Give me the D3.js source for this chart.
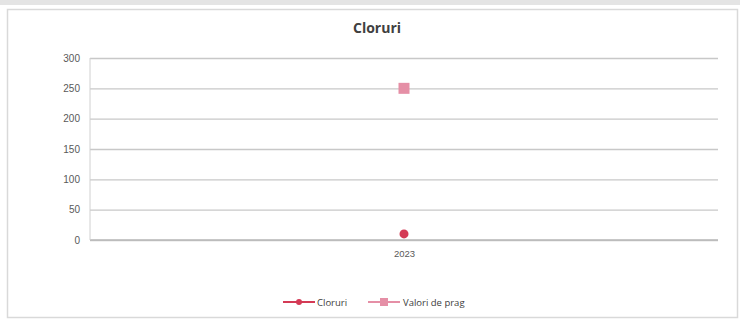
<!DOCTYPE html>
<html>
<head>
<meta charset="utf-8">
<script src="https://cdn.jsdelivr.net/npm/d3@7/dist/d3.min.js"></script>
<style>
  html, body { margin: 0; padding: 0; background: #fff; }
  svg { display: block; font-family: "Open Sans", "Liberation Sans", sans-serif; }
</style>
</head>
<body>
<svg id="chart" width="740" height="323"></svg>
<script>
// Chloride measurements against the threshold value
const categories = ["2023"];
const clorurii = [10];
const valoriPrag = [250];
const yTicks = [0, 50, 100, 150, 200, 250, 300];
const seriesNames = ["Cloruri", "Valori de prag"];

const W = 740, H = 323;
const margin = { top: 58, right: 22, bottom: 83, left: 90 };
const svg = d3.select("#chart");

// page background and chart frame
svg.append("rect").attr("x", 0).attr("y", 0).attr("width", W).attr("height", H).attr("fill", "#fff");
svg.append("rect").attr("x", 0).attr("y", 0).attr("width", W).attr("height", 5).attr("fill", "#e4e4e4");
svg.append("rect").attr("x", 7.5).attr("y", 9.5).attr("width", W - 10).attr("height", 308)
  .attr("fill", "#fff").attr("stroke", "#d9d9d9").attr("stroke-width", 1.5);

const x = d3.scalePoint().domain(categories).range([margin.left, W - margin.right]).padding(0.5);
const y = d3.scaleLinear().domain([0, 300]).range([H - margin.bottom, margin.top]);

// horizontal gridlines
const yAxis = d3.axisLeft(y).tickValues(yTicks).tickSize(-(W - margin.left - margin.right)).tickPadding(10);
const gy = svg.append("g").attr("transform", `translate(${margin.left},0)`).call(yAxis);
gy.select(".domain").remove();
gy.selectAll(".tick line").attr("stroke", "#c8c8c8").attr("stroke-width", 1.3);
gy.selectAll(".tick text").attr("fill", "#595959").attr("font-size", 10);

// baseline and vertical axis line
svg.append("line").attr("x1", margin.left).attr("x2", W - margin.right)
  .attr("y1", y(0)).attr("y2", y(0)).attr("stroke", "#b8b8b8").attr("stroke-width", 1.3);
svg.append("line").attr("x1", margin.left).attr("x2", margin.left)
  .attr("y1", y(0)).attr("y2", y(300)).attr("stroke", "#d0d0d0").attr("stroke-width", 1);

// category axis
const xAxis = d3.axisBottom(x).tickSize(0).tickPadding(10);
const gx = svg.append("g").attr("transform", `translate(0,${y(0)})`).call(xAxis);
gx.select(".domain").remove();
gx.selectAll(".tick text").attr("fill", "#595959").attr("font-size", 9.5);

// title
svg.append("text").attr("x", 377).attr("y", 33).attr("text-anchor", "middle")
  .attr("font-size", 14).attr("font-weight", "bold").attr("fill", "#404040").text("Cloruri");

const redColor = "#d43a55";
const pinkColor = "#e58fa6";

// Cloruri series (circle markers)
svg.append("g").selectAll("circle").data(clorurii).join("circle")
  .attr("cx", (d, i) => x(categories[i])).attr("cy", d => y(d)).attr("r", 4.5).attr("fill", redColor);

// threshold series (square markers)
svg.append("g").selectAll("rect").data(valoriPrag).join("rect")
  .attr("x", (d, i) => x(categories[i]) - 5.5).attr("y", d => y(d) - 5.5)
  .attr("width", 11).attr("height", 11).attr("fill", pinkColor);

// legend
const legend = svg.append("g").attr("transform", "translate(283,302)");
const l1 = legend.append("g");
l1.append("line").attr("x1", 0).attr("x2", 32).attr("stroke", redColor).attr("stroke-width", 2);
l1.append("circle").attr("cx", 16).attr("r", 3).attr("fill", redColor);
l1.append("text").attr("x", 34).attr("y", 3.5).attr("font-size", 9.5).attr("fill", "#404040").text(seriesNames[0]);
const l2 = legend.append("g").attr("transform", "translate(85,0)");
l2.append("line").attr("x1", 0).attr("x2", 32).attr("stroke", pinkColor).attr("stroke-width", 2);
l2.append("rect").attr("x", 12).attr("y", -4).attr("width", 8).attr("height", 8).attr("fill", pinkColor);
l2.append("text").attr("x", 35).attr("y", 3.5).attr("font-size", 9.5).attr("fill", "#404040").text(seriesNames[1]);
</script>
</body>
</html>
